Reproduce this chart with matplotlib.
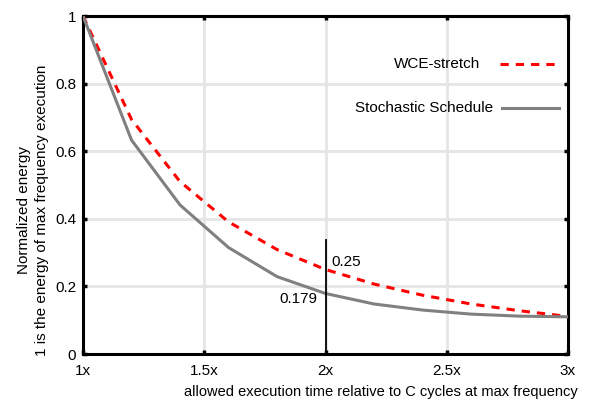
import matplotlib
matplotlib.use("Agg")
import matplotlib.pyplot as plt

plt.rcParams['font.family'] = ['Liberation Sans', 'DejaVu Sans']

x_vals = [1.0, 1.2, 1.4, 1.6, 1.8, 2.0, 2.2, 2.4, 2.6, 2.8, 3.0]
wce_stretch = [1.0, 0.694, 0.51, 0.391, 0.309, 0.25, 0.207, 0.174, 0.148, 0.128, 0.111]
stochastic = [1.0, 0.633, 0.441, 0.315, 0.229, 0.179, 0.148, 0.13, 0.118, 0.112, 0.11]
xticks = [1, 1.5, 2, 2.5, 3]
xtick_labels = ["1x", "1.5x", "2x", "2.5x", "3x"]
yticks = [0, 0.2, 0.4, 0.6, 0.8, 1]
ytick_labels = ["0", "0.2", "0.4", "0.6", "0.8", "1"]

RED = '#ff0000'
GRAY = '#808080'
DASH = (2.7, 2.3)

fig = plt.figure(figsize=(5.98, 4.04), dpi=100)
ax = fig.add_axes([83/598, 1-354/404, (568-83)/598, (354-16)/404])

ax.plot(x_vals, wce_stretch, color=RED, lw=2.2, dashes=DASH, zorder=3)
ax.plot(x_vals, stochastic, color=GRAY, lw=2.2, zorder=3)

ax.set_xlim(1, 3)
ax.set_ylim(0, 1)
ax.set_xticks(xticks)
ax.set_xticklabels(xtick_labels)
ax.set_yticks(yticks)
ax.set_yticklabels(ytick_labels)
ax.grid(True, color='#e5e5e5', lw=2.0, zorder=0)
ax.set_axisbelow(True)
ax.tick_params(direction='in', length=3, width=2.5, labelsize=11, top=True, right=True)
ax.tick_params(axis='x', pad=7)
ax.tick_params(axis='y', pad=5)
for s in ax.spines.values():
    s.set_linewidth(2.2)

# annotation at 2x
ax.plot([2, 2], [0, 0.337], color='black', lw=1.3, zorder=4)
ax.text(2.025, 0.252, "0.25", fontsize=11, ha='left', va='bottom')
ax.text(1.965, 0.182, "0.179", fontsize=11, ha='right', va='top')

# legend drawn manually in axes coords
ax.text(0.818, 0.858, "WCE-stretch", transform=ax.transAxes, fontsize=11, ha='right', va='center')
ax.plot([0.86, 0.979], [0.858, 0.858], transform=ax.transAxes, color=RED, lw=2.2, dashes=DASH)
ax.text(0.845, 0.728, "Stochastic Schedule", transform=ax.transAxes, fontsize=11, ha='right', va='center')
ax.plot([0.864, 0.981], [0.728, 0.728], transform=ax.transAxes, color=GRAY, lw=2.2)

ax.set_xlabel("allowed execution time relative to C cycles at max frequency", fontsize=10.5)
ax.xaxis.set_label_coords(0.615, -0.093)
ax.set_ylabel("Normalized energy\n1 is the energy of max frequency execution", fontsize=11, linespacing=1.4)
ax.yaxis.set_label_coords(-0.07, 0.426)

fig.savefig("out.png", dpi=100)
